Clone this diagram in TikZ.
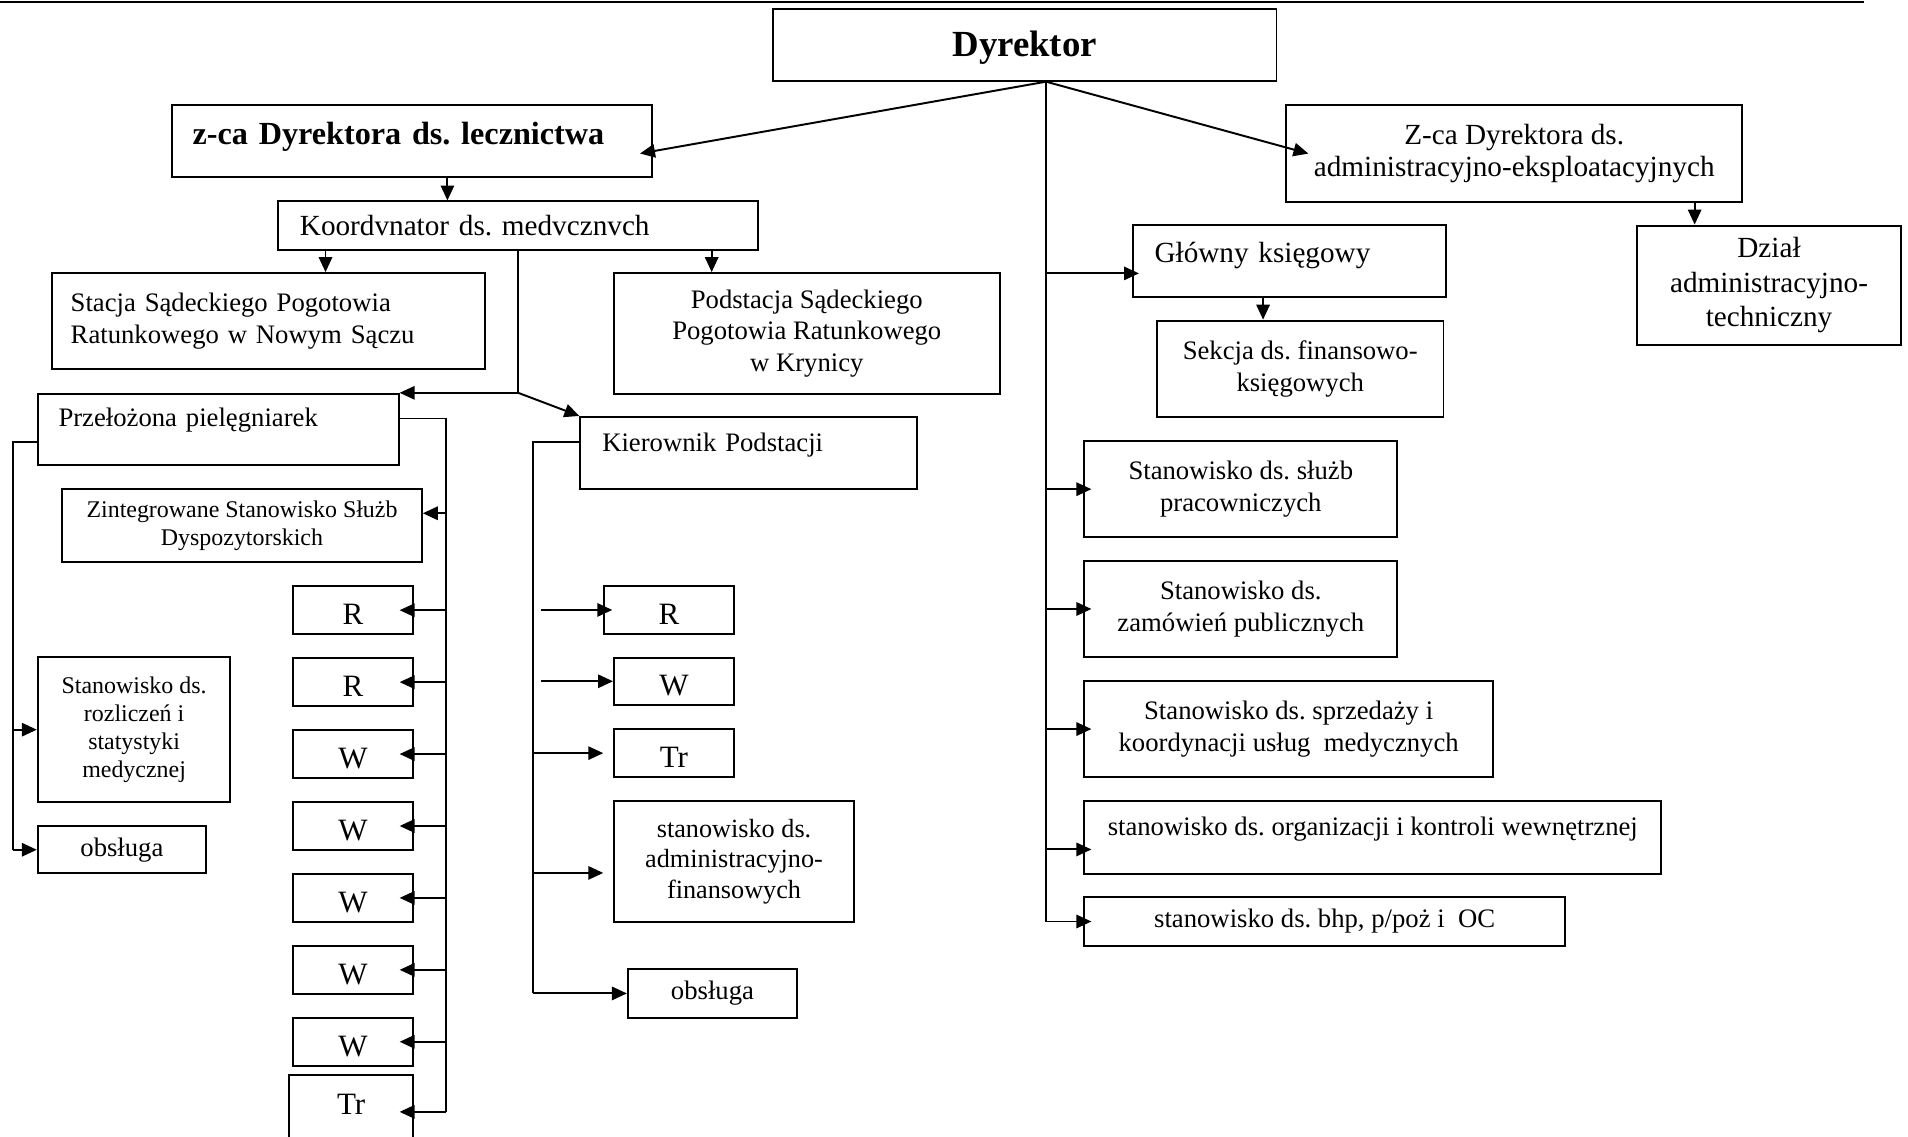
\documentclass[tikz,border=0pt]{standalone}
\usepackage{fontspec}
\setmainfont{Liberation Serif}
\usetikzlibrary{arrows.meta}
\frenchspacing
\newdimen\pxu \pxu=0.53pt
\newcommand{\fbody}{\fontsize{11.6pt}{13.8pt}\selectfont}
\newcommand{\fsmall}{\fontsize{10.4pt}{12.2pt}\selectfont}
\newcommand{\fmid}{\fontsize{12.7pt}{13.8pt}\selectfont}
\newcommand{\fdzial}{\fontsize{12.7pt}{14.9pt}\selectfont}
\newcommand{\fkadm}{\fontsize{11.4pt}{13.25pt}\selectfont}
\newcommand{\flet}{\fontsize{13.5pt}{15pt}\selectfont}
\newcommand{\fdyr}{\fontsize{16pt}{19pt}\selectfont\bfseries}
\newcommand{\fzca}{\fontsize{14pt}{17pt}\selectfont\bfseries}

\begin{document}
\begin{tikzpicture}[x=0.53pt,y=-0.53pt]
\tikzstyle{every node}=[draw, line width=0.85pt, inner sep=0pt, align=center, font=\fbody]
\tikzstyle{letter}=[font=\flet, text height=12.5pt, text depth=0pt]
\tikzstyle{arr}=[line width=0.85pt, -{Triangle[length=6.5pt,width=5.8pt]}]
\tikzstyle{ln}=[line width=0.85pt]
\useasboundingbox (0,0) rectangle (1565,932);
\draw[line width=1pt] (0,1.5) -- (1529,1.5);

% top level
\node[minimum width=413\pxu, minimum height=59\pxu, font=\fdyr, text height=13pt] (dyr) at (840.5,37) {Dyrektor};
\node[text width=360\pxu, inner xsep=17\pxu, minimum height=59\pxu, align=left, font=\fzca, text depth=6.5pt] (zca) at (338,115.5) {z-ca Dyrektora ds. lecznictwa};
\node[minimum width=374\pxu, minimum height=79\pxu, font=\fmid] (zcaadm) at (1242,126) {Z-ca Dyrektora ds.\\ administracyjno-eksploatacyjnych};

% lecznictwo
\node[text width=358\pxu, inner xsep=18\pxu, minimum height=39.5\pxu, align=left, font=\fmid] (koord) at (425,185) {Koordvnator ds. medvcznvch};
\node[text width=325\pxu, inner xsep=15\pxu, minimum height=79\pxu, align=left] (stacja) at (220.5,263.5) {Stacja Sądeckiego Pogotowia\\ Ratunkowego w Nowym Sączu};
\node[minimum width=316.5\pxu, minimum height=99\pxu] (podst) at (661.75,273.5) {Podstacja Sądeckiego\\ Pogotowia Ratunkowego\\ w Krynicy};
\node[text width=262\pxu, inner xsep=17\pxu, minimum height=58.5\pxu, align=left, text depth=10.5pt] (przel) at (179,352.25) {Przełożona pielęgniarek};
\node[text width=240\pxu, inner xsep=18\pxu, minimum height=59\pxu, align=left, text depth=9.3pt] (kier) at (614,371.5) {Kierownik Podstacji};
\node[minimum width=295\pxu, minimum height=60\pxu, font=\fsmall] (zint) at (198.5,431) {Zintegrowane Stanowisko Służb\\ Dyspozytorskich};
\foreach \n/\lbl/\y in {r1/R/500.5, r2/R/559.5, w1/W/618.5, w2/W/677.5, w3/W/736.5, w4/W/795.5, w5/W/854.5}
  \node[letter, minimum width=99\pxu, minimum height=39\pxu] (\n) at (289.5,\y) {\lbl};
\node[minimum width=102\pxu, minimum height=60\pxu, font=\flet, text depth=6.4pt] (tr) at (288,912) {Tr};
\node[minimum width=158\pxu, minimum height=119\pxu, font=\fsmall] (rozl) at (110,598.5) {Stanowisko ds.\\ rozliczeń i\\ statystyki\\ medycznej};
\node[minimum width=138\pxu, minimum height=38.5\pxu] (obsl) at (100,697) {obsługa};

% podstacja
\node[letter, minimum width=106.5\pxu, minimum height=39.4\pxu] (kr) at (548.75,500.3) {R};
\node[letter, minimum width=98.4\pxu, minimum height=38.4\pxu] (kw) at (552.8,558.8) {W};
\node[letter, minimum width=98.4\pxu, minimum height=39.5\pxu] (ktr) at (552.8,617.75) {Tr};
\node[minimum width=197\pxu, minimum height=99\pxu, font=\fkadm] (kadm) at (602.1,706.5) {stanowisko ds.\\ administracyjno-\\ finansowych};
\node[minimum width=138.8\pxu, minimum height=39.7\pxu] (kobs) at (584.4,814.85) {obsługa};

% administracja
\node[text width=221\pxu, inner xsep=18\pxu, minimum height=59.5\pxu, align=left, font=\fmid, text depth=8pt] (glowny) at (1057.5,214.25) {Główny księgowy};
\node[minimum width=235\pxu, minimum height=79\pxu] (sekcja) at (1066.5,302.5) {Sekcja ds. finansowo-\\ księgowych};
\node[minimum width=216\pxu, minimum height=98\pxu, font=\fdzial] (dzial) at (1451,234) {Dział\\ administracyjno-\\ techniczny};
\node[minimum width=256.5\pxu, minimum height=78.5\pxu] (sluzb) at (1017.75,401.25) {Stanowisko ds. służb\\ pracowniczych};
\node[minimum width=256.5\pxu, minimum height=79\pxu] (zamow) at (1017.75,499.5) {Stanowisko ds.\\ zamówień publicznych};
\node[minimum width=335\pxu, minimum height=79\pxu] (sprzed) at (1057,598) {Stanowisko ds. sprzedaży i\\ koordynacji usług\ \ medycznych};
\node[minimum width=473\pxu, minimum height=59.5\pxu, text depth=9.8pt] (org) at (1126,686.75) {stanowisko ds. organizacji i kontroli wewnętrznej};
\node[minimum width=394\pxu, minimum height=39.7\pxu] (bhp) at (1086.5,755.85) {stanowisko ds. bhp, p/poż i\ \ OC};

% connectors from Dyrektor
\coordinate (fan) at (858,67);
\draw[arr, shorten >=-11\pxu] (fan) -- ([yshift=-8.5\pxu]zca.east);
\draw[arr] (fan) -- ([xshift=19\pxu]zcaadm.west);
\draw[ln] (fan) -- (fan |- bhp.west);
\coordinate (gw) at ([yshift=-10\pxu]glowny.west);
\draw[arr, shorten >=-6\pxu] (fan |- gw) -- (gw);
\foreach \n in {sluzb,zamow,sprzed,bhp}
  \draw[arr, shorten >=-6.5\pxu] (fan |- \n.west) -- (\n.west);
\coordinate (ow) at ([yshift=-10\pxu]org.west);
\draw[arr, shorten >=-6.5\pxu] (fan |- ow) -- (ow);
\draw[arr] ([xshift=-21.5\pxu]glowny.south) -- ([xshift=-21.5\pxu]glowny.south |- sekcja.north);
\draw[arr] ([xshift=148\pxu]zcaadm.south) -- ([xshift=148\pxu]zcaadm.south |- dzial.north);

% lecznictwo tree
\draw[arr] ([xshift=29\pxu]zca.south) -- ([xshift=29\pxu]zca.south |- koord.north);
\draw[arr] ([xshift=46.5\pxu]stacja.north |- koord.south) -- ([xshift=46.5\pxu]stacja.north);
\draw[arr] ([xshift=-78\pxu]podst.north |- koord.south) -- ([xshift=-78\pxu]podst.north);
\coordinate (split) at (koord.south |- przel.north);
\draw[ln] (koord.south) -- (split);
\draw[arr] (split) -- (przel.north east);
\draw[arr] (split) -- (kier.north west);

% Przelozona
\coordinate (lsp) at (11,0);
\coordinate (pl) at ([yshift=-10\pxu]przel.west);
\draw[ln] (pl) -- (lsp |- pl) -- (lsp |- obsl.west);
\draw[arr] (lsp |- rozl.west) -- (rozl.west);
\draw[arr] (lsp |- obsl.west) -- (obsl.west);
\coordinate (rsp) at (366,0);
\coordinate (pr) at ([yshift=9\pxu]przel.east);
\draw[ln] (pr) -- (rsp |- pr) -- (rsp |- tr.east);
\coordinate (ze) at ([yshift=10\pxu]zint.east);
\draw[arr] (rsp |- ze) -- (ze);
\foreach \n in {r1,r2,w1,w2,w3,w4,w5,tr}
  \draw[arr, shorten >=-12\pxu] (rsp |- \n.east) -- (\n.east);

% Kierownik
\coordinate (ksp) at (437,0);
\coordinate (kfree) at (444,0);
\coordinate (kl) at ([yshift=9\pxu]kier.west);
\draw[ln] (kl) -- (ksp |- kl) -- (ksp |- kobs.west);
\draw[arr, shorten >=-7.5\pxu] (kfree |- kr.west) -- (kr.west);
\draw[arr] (kfree |- kw.west) -- (kw.west);
\draw[arr, shorten >=8\pxu] (ksp |- ktr.west) -- (ktr.west);
\coordinate (kaw) at ([yshift=-9.5\pxu]kadm.west);
\draw[arr, shorten >=8\pxu] (ksp |- kaw) -- (kaw);
\draw[arr] (ksp |- kobs.west) -- (kobs.west);
\end{tikzpicture}
\end{document}
